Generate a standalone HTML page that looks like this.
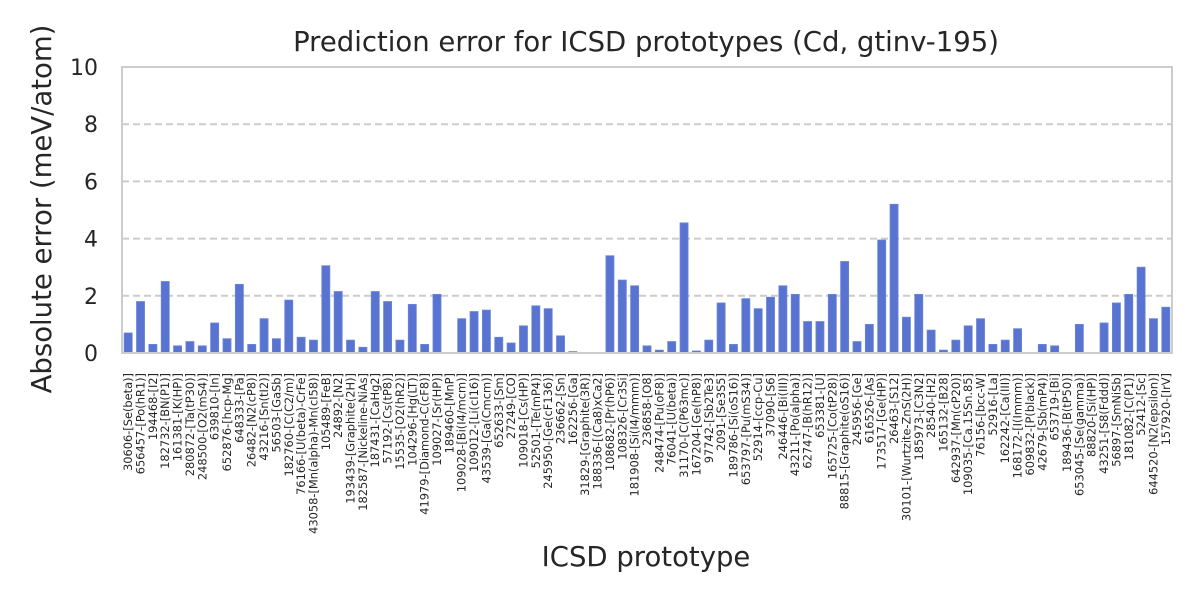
<!DOCTYPE html>
<html><head><meta charset="utf-8"><style>
body{margin:0;background:#fff;}
svg{display:block;font-family:"DejaVu Sans","Liberation Sans",sans-serif;}
</style></head><body>
<svg id="chart" width="1200" height="600">
<text x="646" y="51" text-anchor="middle" font-size="27.5" fill="#262626">Prediction error for ICSD prototypes (Cd, gtinv-195)</text>
<text transform="translate(51,209) rotate(-90)" text-anchor="middle" font-size="27.5" fill="#262626">Absolute error (meV/atom)</text>
<text x="646" y="566" text-anchor="middle" font-size="27.5" fill="#262626">ICSD prototype</text>
<g id="grid"></g><g id="bars"></g><g id="xt"></g><g id="yt"></g>
<rect x="122" y="67" width="1050" height="286" fill="none" stroke="#cccccc" stroke-width="2"/>
</svg>
<script>
const categories=["30606-[Se(beta)]","656457-[Po(hR1)]","194468-[I2]","182732-[BN(P1)]","161381-[K(HP)]","280872-[Ta(tP30)]","248500-[O2(mS4)]","639810-[In]","652876-[hcp-Mg]","648333-[Pa]","26482-[N2(cP8)]","43216-[Sn(tI2)]","56503-[GaSb]","182760-[C(C2/m)]","76166-[U(beta)-CrFe]","43058-[Mn(alpha)-Mn(cI58)]","105489-[FeB]","24892-[N2]","193439-[Graphite(2H)]","182587-[Nickeline-NiAs]","187431-[CaHg2]","57192-[Cs(tP8)]","15535-[O2(hR2)]","104296-[Hg(LT)]","41979-[Diamond-C(cF8)]","109027-[Sr(HP)]","189460-[MnP]","109028-[Bi(I4/mcm)]","109012-[Li(cI16)]","43539-[Ga(Cmcm)]","652633-[Sm]","27249-[CO]","109018-[Cs(HP)]","52501-[Te(mP4)]","245950-[Ge(cF136)]","236662-[Sn]","162256-[Ga]","31829-[Graphite(3R)]","188336-[(Ca8)xCa2]","108682-[Pr(hP6)]","108326-[Cr3Si]","181908-[Si(I4/mmm)]","236858-[O8]","248474-[Pu(oF8)]","76041-[U(beta)]","31170-[C(P63mc)]","167204-[Ge(hP8)]","97742-[Sb2Te3]","2091-[Se3S5]","189786-[Si(oS16)]","653797-[Pu(mS34)]","52914-[ccp-Cu]","37090-[S6]","246446-[Bi(III)]","43211-[Po(alpha)]","62747-[B(hR12)]","653381-[U]","165725-[Co(tP28)]","88815-[Graphite(oS16)]","245956-[Ge]","616526-[As]","173517-[Ge(HP)]","26463-[S12]","30101-[Wurtzite-ZnS(2H)]","185973-[C3N2]","28540-[H2]","165132-[B28]","642937-[Mn(cP20)]","109035-[Ca.15Sn.85]","76156-[bcc-W]","52916-[La]","162242-[Ca(III)]","168172-[I(Immm)]","609832-[P(black)]","42679-[Sb(mP4)]","653719-[Bi]","189436-[B(tP50)]","653045-[Se(gamma)]","88820-[Si(HP)]","43251-[S8(Fddd)]","56897-[SmNiSb]","181082-[C(P1)]","52412-[Sc]","644520-[N2(epsilon)]","157920-[IrV]"];
const values=[0.7,1.8,0.3,2.5,0.25,0.4,0.25,1.05,0.5,2.4,0.3,1.2,0.5,1.85,0.55,0.45,3.05,2.15,0.45,0.2,2.15,1.8,0.45,1.7,0.3,2.05,0,1.2,1.45,1.5,0.55,0.35,0.95,1.65,1.55,0.6,0.05,0,0,3.4,2.55,2.35,0.25,0.1,0.4,4.55,0.07,0.45,1.75,0.3,1.9,1.55,1.95,2.35,2.05,1.1,1.1,2.05,3.2,0.4,1.0,3.95,5.2,1.25,2.05,0.8,0.1,0.45,0.95,1.2,0.3,0.45,0.85,0,0.3,0.25,0,1.0,0,1.05,1.75,2.05,3.0,1.2,1.6];
const yTicks=[0,2,4,6,8,10];
const NS="http://www.w3.org/2000/svg";
const X0=122,X1=1172,Y0=353,Y1=67,YMAX=10;
const step=(X1-X0)/categories.length;
const xc=i=>X0+step*(i+0.5);
const ys=v=>Y0-(v/YMAX)*(Y0-Y1);
function mk(t,a,p){const e=document.createElementNS(NS,t);for(const k in a)e.setAttribute(k,a[k]);p.appendChild(e);return e;}
const grid=document.getElementById('grid'),yt=document.getElementById('yt');
yTicks.forEach(t=>{
 if(t>0&&t<YMAX){const l=mk('line',{x1:X0,x2:X1,y1:ys(t),y2:ys(t),stroke:'#cccccc','stroke-width':2,'stroke-dasharray':'7,4'},grid);
 
 }
 const tx=mk('text',{x:X0-24,y:ys(t)+8,'text-anchor':'end','font-size':22,fill:'#262626'},yt);
 tx.textContent=t;
 
 
});
const bars=document.getElementById('bars'),xt=document.getElementById('xt');
const bw=step*0.65;
values.forEach((v,i)=>{
 const r=mk('rect',{x:xc(i)-bw/2,y:ys(v),width:bw,height:Y0-ys(v),fill:'#5874d0',stroke:'#6b85d8','stroke-width':0.8},bars);
 
 
 const t=mk('text',{transform:`translate(${xc(i)+4},373) rotate(-90)`,'text-anchor':'end','font-size':11.4,fill:'#262626'},xt);
 t.textContent=categories[i];
 
 
});
</script>
</body></html>
